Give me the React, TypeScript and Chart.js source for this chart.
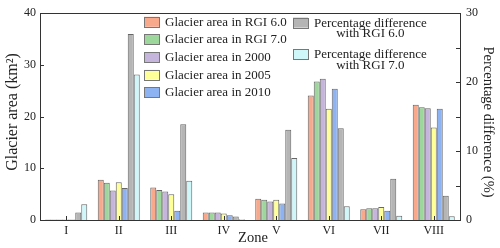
import React, { useEffect, useRef } from "react";
import { Chart, registerables } from "chart.js";

Chart.register(...registerables);

const zones = ["I", "II", "III", "IV", "V", "VI", "VII", "VIII"];
const areaRgi60 = [0.12, 7.8, 6.3, 1.45, 4.1, 24.1, 2.1, 22.3];
const areaRgi70 = [0.12, 7.2, 5.8, 1.45, 3.9, 26.8, 2.25, 21.8];
const area2000 = [0.12, 5.7, 5.5, 1.45, 3.6, 27.3, 2.25, 21.6];
const area2005 = [0.12, 7.3, 5.0, 1.25, 3.9, 21.5, 2.5, 17.9];
const area2010 = [0.12, 6.2, 1.8, 0.9, 3.2, 25.4, 1.8, 21.5];
const pctRgi60 = [1.1, 27.0, 13.9, 0.5, 13.1, 13.3, 6.0, 3.5];
const pctRgi70 = [2.3, 21.1, 5.7, 0.12, 9.0, 2.0, 0.6, 0.55];

const leftTickMarks = [10, 20, 30];
const rightTickMarks = [5, 10, 15, 20, 25];

const leftLegend = [
  "Glacier area in RGI 6.0",
  "Glacier area in RGI 7.0",
  "Glacier area in 2000",
  "Glacier area in 2005",
  "Glacier area in 2010",
];
const rightLegend = [
  ["Percentage difference", "with RGI 6.0"],
  ["Percentage difference", "with RGI 7.0"],
];

const COLORS = ["#F8A98C", "#9ED79B", "#C5B5DD", "#FFFF99", "#8DB3F2", "#B5B5B5", "#CFF6F9"];
const BORDER = "#666";
const INK = "#222";
const SERIF = '"Liberation Serif", "Times New Roman", serif';

const decorPlugin = {
  id: "decor",
  afterDraw(chart: any) {
    const { ctx, chartArea, scales } = chart;
    const { left, right, top, bottom } = chartArea;
    ctx.save();
    ctx.strokeStyle = "#333";
    ctx.lineWidth = 1;
    const line = (x1: number, y1: number, x2: number, y2: number) => {
      ctx.beginPath();
      ctx.moveTo(x1, y1);
      ctx.lineTo(x2, y2);
      ctx.stroke();
    };
    line(left, Math.round(top) + 0.5, right, Math.round(top) + 0.5);
    for (const v of leftTickMarks) {
      const y = Math.round(scales.y.getPixelForValue(v)) + 0.5;
      line(left, y, left + 4, y);
    }
    for (const v of rightTickMarks) {
      const y = Math.round(scales.y1.getPixelForValue(v)) + 0.5;
      line(right, y, right - 4, y);
    }
    for (let i = 0; i < zones.length; i++) {
      const x = Math.round(scales.x.getPixelForValue(i)) + 0.5;
      line(x, bottom, x, bottom - 4);
    }

    // legend
    ctx.font = `13px ${SERIF}`;
    ctx.textBaseline = "middle";
    const boxW = 15;
    const boxH = 10;
    leftLegend.forEach((label, i) => {
      const cy = 21.8 + i * 17.6;
      ctx.fillStyle = COLORS[i];
      ctx.fillRect(144, cy - boxH / 2, boxW, boxH);
      ctx.strokeStyle = "#777";
      ctx.strokeRect(144.5, Math.round(cy - boxH / 2) + 0.5, boxW, boxH);
      ctx.fillStyle = INK;
      ctx.textAlign = "left";
      ctx.fillText(label, 165, cy + 0.5);
    });
    rightLegend.forEach((lines, i) => {
      const cy = 22.6 + i * 31.6;
      ctx.fillStyle = COLORS[5 + i];
      ctx.fillRect(293, cy - boxH / 2, boxW, boxH);
      ctx.strokeStyle = "#777";
      ctx.strokeRect(293.5, Math.round(cy - boxH / 2) + 0.5, boxW, boxH);
      ctx.fillStyle = INK;
      ctx.textAlign = "left";
      ctx.fillText(lines[0], 314, cy + 0.5);
      const w0 = ctx.measureText(lines[0]).width;
      ctx.textAlign = "center";
      ctx.fillText(lines[1], 314 + w0 / 2, cy + 11.3);
    });

    // axis titles
    ctx.fillStyle = INK;
    ctx.textAlign = "center";
    ctx.textBaseline = "middle";
    ctx.font = `16px ${SERIF}`;
    ctx.save();
    ctx.translate(13, 112);
    ctx.rotate(-Math.PI / 2);
    ctx.fillText("Glacier area (km\u00B2)", 0, 0);
    ctx.restore();
    ctx.font = `14.5px ${SERIF}`;
    ctx.save();
    ctx.translate(488, 122);
    ctx.rotate(Math.PI / 2);
    ctx.fillText("Percentage difference (%)", 0, 0);
    ctx.restore();
    ctx.font = `14.5px ${SERIF}`;
    ctx.fillText("Zone", 253, 238);
    ctx.restore();
  },
};

export default function App() {
  const ref = useRef<HTMLCanvasElement | null>(null);
  useEffect(() => {
    document.body.style.margin = "0";
    const canvas = ref.current;
    if (!canvas) return;
    const mk = (label: string, data: number[], i: number, axis: string) => ({
      label,
      data,
      yAxisID: axis,
      backgroundColor: COLORS[i],
      borderColor: BORDER,
      borderWidth: 1,
      categoryPercentage: 0.8,
      barPercentage: 1.0,
    });
    const chart = new Chart(canvas, {
      type: "bar",
      data: {
        labels: zones,
        datasets: [
          mk(leftLegend[0], areaRgi60, 0, "y"),
          mk(leftLegend[1], areaRgi70, 1, "y"),
          mk(leftLegend[2], area2000, 2, "y"),
          mk(leftLegend[3], area2005, 3, "y"),
          mk(leftLegend[4], area2010, 4, "y"),
          mk(rightLegend[0].join(" "), pctRgi60, 5, "y1"),
          mk(rightLegend[1].join(" "), pctRgi70, 6, "y1"),
        ],
      },
      options: {
        animation: false,
        responsive: false,
        devicePixelRatio: 1,
        layout: { padding: { top: 4.8, left: 0, right: 0, bottom: 0 } },
        plugins: { legend: { display: false }, tooltip: { enabled: false } },
        scales: {
          x: {
            type: "category",
            offset: true,
            grid: { display: false, drawTicks: false },
            border: { display: true, color: "#333", width: 1 },
            ticks: { color: INK, font: { family: SERIF, size: 12 }, padding: 4, maxRotation: 0 },
            afterFit: (s: any) => {
              s.height = 28;
            },
          },
          y: {
            position: "left",
            min: 0,
            max: 40,
            grid: { display: false, drawTicks: false },
            border: { display: true, color: "#333", width: 1 },
            ticks: { stepSize: 10, color: INK, font: { family: SERIF, size: 12 }, padding: 4 },
            afterFit: (s: any) => {
              s.width = 40;
            },
          },
          y1: {
            position: "right",
            min: 0,
            max: 30,
            grid: { display: false, drawTicks: false },
            border: { display: true, color: "#333", width: 1 },
            ticks: { stepSize: 10, color: INK, font: { family: SERIF, size: 12 }, padding: 6 },
            afterFit: (s: any) => {
              s.width = 40;
            },
          },
        },
      },
      plugins: [decorPlugin],
    } as any);
    return () => chart.destroy();
  }, []);
  return (
    <div style={{ width: 500, height: 248 }}>
      <canvas ref={ref} width={500} height={248} style={{ display: "block", width: 500, height: 248 }} />
    </div>
  );
}
